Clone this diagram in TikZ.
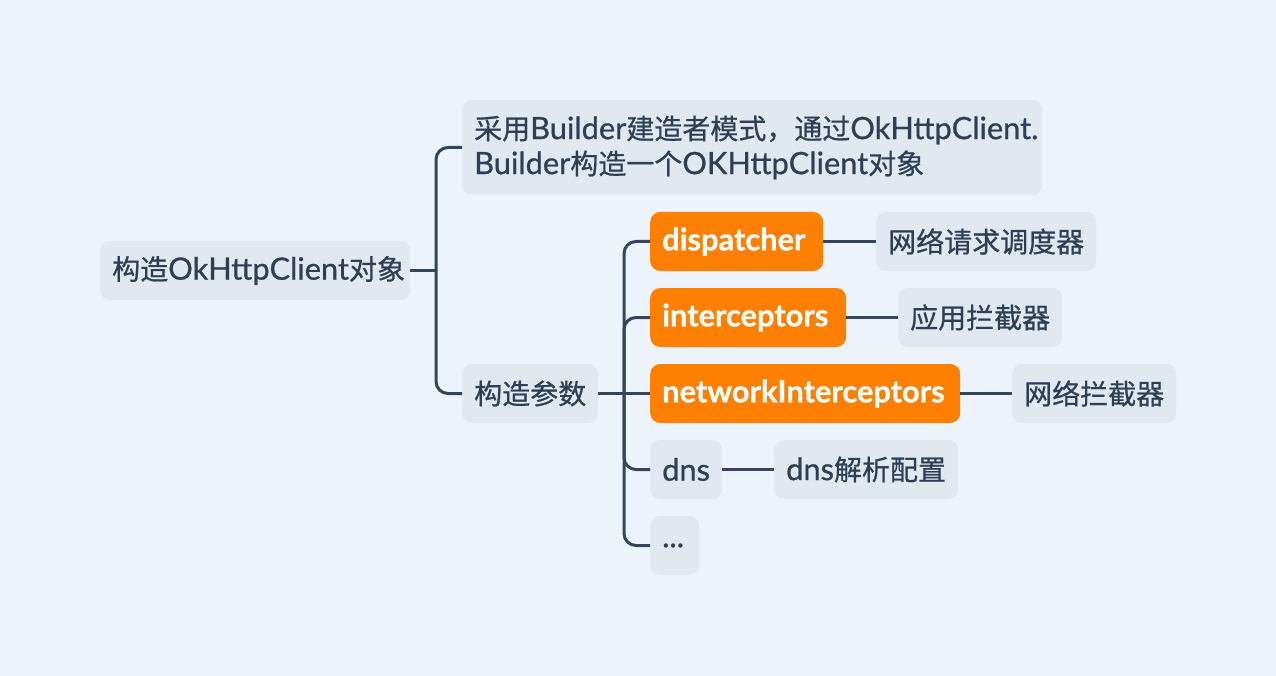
\documentclass[tikz,border=0pt]{standalone}
\usepackage{fontspec}
\setmainfont{Lato}[Scale=1.1, RawFeature={embolden=0.7}]
\newfontfamily\cjk{Noto Sans CJK SC}[RawFeature={embolden=0.7}]
\definecolor{bgc}{RGB}{236,243,250}
\definecolor{boxc}{RGB}{225,232,240}
\definecolor{txtc}{RGB}{46,62,85}
\definecolor{linec}{RGB}{52,69,92}
\definecolor{orangec}{RGB}{255,128,0}
\newcommand{\zh}[1]{{\cjk #1}}
\tikzset{
  mbox/.style={rounded corners=10pt, fill=boxc, text=txtc, anchor=west, inner xsep=12pt, inner ysep=0pt,
    minimum height=59pt, align=left, font=\fontsize{28}{35}\selectfont},
  obox/.style={mbox, fill=orangec, text=white, font=\fontsize{28}{35}\selectfont\bfseries},
  conn/.style={draw=linec, line width=3pt, rounded corners=12pt},
}
\begin{document}
\begin{tikzpicture}[x=1pt,y=-1pt]
\fill[bgc] (0,0) rectangle (1276,676);
\useasboundingbox (0,0) rectangle (1276,676);
% nodes
\node[mbox, text width=286pt] (root) at (100,270.5) {\zh{构造}OkHttpClient\zh{对象}};
\node[mbox, text width=556pt, minimum height=95pt] (top) at (462,147.5) {\mbox{\zh{采用}Builder\zh{建造者模式，通过}OkHttpClient.}\\\mbox{Builder\zh{构造一个}OKHttpClient\zh{对象}}};
\node[mbox, text width=112pt] (param) at (462,393.5) {\zh{构造参数}};
\node[obox, text width=149pt] (disp) at (650,241.5) {dispatcher};
\node[obox, text width=172pt] (inter) at (650,317.5) {interceptors};
\node[obox, text width=286pt] (net) at (650,393.5) {networkInterceptors};
\node[mbox, text width=48pt] (dns) at (650,469.5) {dns};
\node[mbox, text width=25pt] (dots) at (650,545.5) {...};
\node[mbox, text width=196pt] (cdisp) at (876,241.5) {\zh{网络请求调度器}};
\node[mbox, text width=140pt] (cinter) at (898,317.5) {\zh{应用拦截器}};
\node[mbox, text width=140pt] (cnet) at (1012,393.5) {\zh{网络拦截器}};
\node[mbox, text width=160pt] (cdns) at (774,469.5) {dns\zh{解析配置}};
% junctions
\coordinate (t1) at (436,270.5);
\coordinate (t2) at (624,393.5);
% connectors
\draw[conn] (root.east) -- (t1);
\draw[conn] (top.west) -| (t1) |- (param.west);
\draw[conn] (param.east) -- (net.west);
\draw[conn] (disp.west) -| (t2) |- (dots.west);
\draw[conn] (inter.west) -| (t2);
\draw[conn] (dns.west) -| (t2);
\draw[conn] (disp.east) -- (cdisp.west);
\draw[conn] (inter.east) -- (cinter.west);
\draw[conn] (net.east) -- (cnet.west);
\draw[conn] (dns.east) -- (cdns.west);
\end{tikzpicture}
\end{document}
